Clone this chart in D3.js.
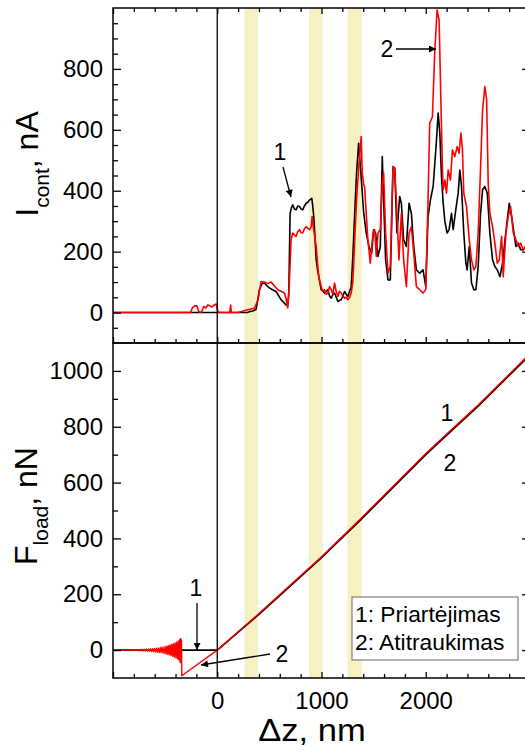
<!DOCTYPE html>
<html>
<head>
<meta charset="utf-8">
<script src="https://cdn.jsdelivr.net/npm/d3@7"></script>
<style>
  html, body { margin: 0; padding: 0; background: #fff; }
  svg { display: block; font-family: "Liberation Sans", Arial, sans-serif; }
</style>
</head>
<body>
<svg id="chart" width="525" height="750"></svg>
<script>
// ---- data ----
// Δz positions are in nm
const xTicksMajor = [-1000, 0, 1000, 2000, 3000];
const xTickLabels = [0, 1000, 2000];
const xTicksMinor = [-800, -600, -400, -200, 200, 400, 600, 800, 1200, 1400, 1600, 1800, 2200, 2400, 2600, 2800];

const currentTicks = [0, 200, 400, 600, 800];
const currentMinor = [-50, 50, 100, 150, 250, 300, 350, 450, 500, 550, 650, 700, 750, 850, 900, 950];
const loadTicks = [0, 200, 400, 600, 800, 1000];
const loadMinor = [100, 300, 500, 700, 900];

// highlighted Δz intervals, nm
const bands = [[260, 390], [880, 1010], [1250, 1385]];

// contact current, nA — approach (1)
const currentApproach = [
  [-1000,0],[290,0],[308,3],[340,5],[372,10],[390,45],[404,75],[430,95],[452,97],[476,88],[500,81],[530,75],
  [564,69],[590,55],[612,42],[644,31],[660,25],[675,22],[686,60],[699,326],[712,345],[724,354],[740,340],
  [756,337],[772,350],[788,348],[804,340],[820,337],[836,350],[853,359],[870,362],[885,370],[897,372],
  [907,375],[916,350],[926,315],[937,250],[949,173],[962,140],[974,118],[997,75],[1013,70],[1029,64],
  [1045,70],[1061,75],[1077,55],[1093,47],[1109,60],[1125,64],[1141,50],[1157,36],[1173,40],[1189,42],
  [1205,55],[1221,69],[1237,60],[1253,53],[1270,70],[1285,85],[1300,180],[1317,315],[1335,450],[1356,556],
  [1375,470],[1390,400],[1404,330],[1429,261],[1455,217],[1481,195],[1500,272],[1519,261],[1542,184],
  [1564,217],[1583,512],[1596,370],[1615,173],[1638,107],[1660,107],[1686,479],[1702,474],[1724,261],
  [1750,381],[1766,359],[1788,239],[1814,217],[1840,359],[1862,326],[1885,217],[1910,140],[1942,129],
  [1974,140],[2000,85],[2022,315],[2045,370],[2071,414],[2103,567],[2119,655],[2135,589],[2151,446],
  [2167,360],[2183,300],[2205,261],[2224,272],[2247,326],[2263,272],[2288,337],[2311,392],[2327,468],
  [2343,414],[2365,261],[2385,162],[2397,140],[2417,217],[2439,97],[2462,75],[2481,75],[2503,151],
  [2526,326],[2545,403],[2567,414],[2590,392],[2615,261],[2641,173],[2663,151],[2686,140],[2712,118],
  [2737,162],[2760,239],[2782,304],[2801,359],[2824,315],[2846,261],[2865,217],[2888,228],[2910,206],
  [2935,206],[2960,215],[3000,210]
];

// contact current, nA — retraction (2)
const currentRetract = [
  [-1000,0],[-255,0],[-240,15],[-215,22],[-195,22],[-180,5],[-165,0],[-150,2],[-130,20],[-110,15],[-90,25],
  [-70,22],[-50,18],[-30,25],[-10,28],[5,5],[15,0],[60,0],[120,0],[128,25],[135,0],[200,0],[291,9],[356,14],
  [390,40],[420,102],[452,100],[485,95],[516,100],[548,88],[580,75],[612,70],[644,64],[660,45],[676,15],
  [692,100],[708,239],[724,261],[740,255],[756,250],[772,265],[788,272],[804,262],[820,261],[836,275],
  [853,282],[870,276],[885,272],[900,280],[910,315],[917,290],[930,260],[949,217],[960,170],[974,118],
  [997,85],[1013,70],[1029,75],[1045,60],[1061,64],[1077,85],[1093,75],[1109,60],[1125,97],[1141,70],
  [1157,53],[1173,70],[1189,64],[1205,55],[1221,47],[1237,50],[1253,42],[1270,50],[1285,64],[1300,100],
  [1308,151],[1324,280],[1340,392],[1365,512],[1381,578],[1391,458],[1405,420],[1413,414],[1429,326],
  [1445,239],[1468,162],[1494,261],[1510,272],[1526,184],[1542,261],[1564,272],[1583,425],[1596,458],
  [1615,261],[1638,129],[1660,151],[1686,479],[1702,474],[1724,326],[1743,173],[1766,326],[1788,173],
  [1814,85],[1840,261],[1862,282],[1885,195],[1910,85],[1942,75],[1974,64],[2000,75],[2022,370],[2038,622],
  [2064,643],[2087,862],[2109,994],[2128,961],[2145,700],[2160,470],[2167,403],[2183,435],[2199,392],
  [2215,468],[2237,435],[2256,534],[2279,512],[2301,545],[2320,523],[2337,589],[2352,534],[2365,392],
  [2391,348],[2417,239],[2439,173],[2462,140],[2481,151],[2503,261],[2526,479],[2545,665],[2567,742],
  [2584,698],[2599,425],[2615,326],[2641,282],[2663,228],[2686,162],[2705,173],[2728,250],[2743,118],
  [2769,261],[2791,315],[2814,348],[2840,261],[2865,239],[2888,217],[2910,228],[2935,206],[2960,220],
  [3000,210]
];

// load force, nN — approach (1)
const loadApproach = [
  [-1000,0],[0,0],[400,128],[1000,331],[1365,463],[2000,700],[2250,787],[2500,873],[3000,1058]
];

// load force, nN — retraction (2), with the ringing before snap-off
const loadRetract = [
  [-1000,0],[-840,0],[-820,1],[-810,-1],[-800,1],[-790,-1],[-780,1],[-770,-1],[-760,2],[-750,-2],[-740,2],[-730,-2],[-720,3],
  [-710,-3],[-700,3],[-690,-3],[-680,4],[-670,-4],[-660,4],[-650,-4],[-640,5],[-630,-5],[-620,5],[-610,-6],
  [-600,6],[-590,-7],[-580,7],[-570,-8],[-560,8],[-550,-9],[-540,10],[-530,-10],[-520,11],[-510,-12],
  [-500,12],[-492,-13],[-484,14],[-476,-15],[-468,16],[-460,-17],[-452,18],[-444,-19],[-436,20],[-428,-22],
  [-420,23],[-412,-25],[-404,26],[-396,-28],[-388,29],[-380,-31],[-372,33],[-366,-36],[-360,38],[-355,-45],
  [-350,42],[-346,-40],[-343,35],[-340,-92],[0,0],[400,131],[1000,334],[1365,467],[2000,704],[2250,791],
  [2500,877],[3000,1062]
];

// ---- layout ----
const svg = d3.select("#chart");
const L = 113, R = 530, T = 8, MID = 343, B = 678;

const x = d3.scaleLinear().domain([-1000, 3000]).range([L, R]);
const yTop = d3.scaleLinear().domain([-100, 1000]).range([MID, T]);
const yBot = d3.scaleLinear().domain([-100, 1100]).range([B, MID]);
const fmt = d3.format("d");

// highlighted intervals
svg.append("g").selectAll("rect").data(bands).join("rect")
  .attr("x", d => x(d[0])).attr("width", d => x(d[1]) - x(d[0]))
  .attr("y", T).attr("height", B - T)
  .attr("fill", "#f6f1c3");

svg.append("clipPath").attr("id", "clipTop")
  .append("rect").attr("x", L).attr("y", T).attr("width", R - L).attr("height", MID - T);
svg.append("clipPath").attr("id", "clipBot")
  .append("rect").attr("x", L).attr("y", MID).attr("width", R - L).attr("height", B - MID);

const lineTop = d3.line().x(d => x(d[0])).y(d => yTop(d[1]));
const lineBot = d3.line().x(d => x(d[0])).y(d => yBot(d[1]));

const gTop = svg.append("g").attr("clip-path", "url(#clipTop)");
gTop.append("path").datum(currentApproach).attr("d", lineTop)
  .attr("fill", "none").attr("stroke", "#000").attr("stroke-width", 1.6).attr("stroke-linejoin", "round");
gTop.append("path").datum(currentRetract).attr("d", lineTop)
  .attr("fill", "none").attr("stroke", "#ff0000").attr("stroke-width", 1.6).attr("stroke-linejoin", "round");

const gBot = svg.append("g").attr("clip-path", "url(#clipBot)");
gBot.append("path").datum(loadApproach).attr("d", lineBot)
  .attr("fill", "none").attr("stroke", "#000").attr("stroke-width", 1.8);
gBot.append("path").datum(loadRetract).attr("d", lineBot)
  .attr("fill", "none").attr("stroke", "#ff0000").attr("stroke-width", 1.4).attr("stroke-linejoin", "round");

// Δz = 0 marker
svg.append("line").attr("x1", x(0)).attr("x2", x(0)).attr("y1", T).attr("y2", B)
  .attr("stroke", "#000").attr("stroke-width", 1.3);

// ---- axes ----
function styleAxis(g) {
  g.select(".domain").remove();
  g.selectAll(".tick line").attr("stroke", "#000").attr("stroke-width", 1.3);
  g.selectAll(".tick text").attr("font-size", 24).attr("fill", "#000")
    .attr("font-family", "'Liberation Sans', Arial, sans-serif");
}
function addAxis(axis, tx, ty) {
  svg.append("g").attr("transform", `translate(${tx},${ty})`).call(axis).call(styleAxis);
}

// top panel
addAxis(d3.axisLeft(yTop).tickValues(currentTicks).tickSize(-8).tickPadding(10).tickFormat(fmt), L, 0);
addAxis(d3.axisLeft(yTop).tickValues(currentMinor).tickSize(-5).tickFormat(""), L, 0);
addAxis(d3.axisRight(yTop).tickValues(currentTicks).tickSize(-8).tickFormat(""), R, 0);
addAxis(d3.axisRight(yTop).tickValues(currentMinor).tickSize(-5).tickFormat(""), R, 0);
addAxis(d3.axisTop(x).tickValues(xTicksMajor).tickSize(-6).tickFormat(""), 0, T);
addAxis(d3.axisTop(x).tickValues(xTicksMinor).tickSize(-4).tickFormat(""), 0, T);
addAxis(d3.axisBottom(x).tickValues(xTicksMajor).tickSize(-6).tickFormat(""), 0, MID);
addAxis(d3.axisBottom(x).tickValues(xTicksMinor).tickSize(-4).tickFormat(""), 0, MID);

// bottom panel
addAxis(d3.axisLeft(yBot).tickValues(loadTicks).tickSize(-8).tickPadding(10).tickFormat(fmt), L, 0);
addAxis(d3.axisLeft(yBot).tickValues(loadMinor).tickSize(-5).tickFormat(""), L, 0);
addAxis(d3.axisRight(yBot).tickValues(loadTicks).tickSize(-8).tickFormat(""), R, 0);
addAxis(d3.axisRight(yBot).tickValues(loadMinor).tickSize(-5).tickFormat(""), R, 0);
addAxis(d3.axisBottom(x).tickValues(xTicksMajor).tickSize(-6)
  .tickFormat(d => xTickLabels.includes(d) ? fmt(d) : "").tickPadding(14), 0, B);
addAxis(d3.axisBottom(x).tickValues(xTicksMinor).tickSize(-4).tickFormat(""), 0, B);

// frames
[[T, MID], [MID, B]].forEach(([a, b]) => {
  svg.append("rect").attr("x", L).attr("y", a).attr("width", R - L).attr("height", b - a)
    .attr("fill", "none").attr("stroke", "#000").attr("stroke-width", 1.5);
});

// ---- axis titles ----
const yTitleTop = svg.append("text")
  .attr("transform", "translate(38,164) rotate(-90)")
  .attr("text-anchor", "middle").attr("font-size", 32).attr("fill", "#000");
yTitleTop.append("tspan").text("I");
yTitleTop.append("tspan").text("cont").attr("font-size", 21).attr("dy", 11);
yTitleTop.append("tspan").text(", nA").attr("dy", -11);

const yTitleBot = svg.append("text")
  .attr("transform", "translate(37,506) rotate(-90)")
  .attr("text-anchor", "middle").attr("font-size", 32).attr("fill", "#000");
yTitleBot.append("tspan").text("F");
yTitleBot.append("tspan").text("load").attr("font-size", 21).attr("dy", 11);
yTitleBot.append("tspan").text(", nN").attr("dy", -11);

svg.append("text").attr("transform", "translate(312,741) scale(1.08,1)")
  .attr("text-anchor", "middle").attr("font-size", 32).attr("fill", "#000").text("Δz, nm");

// ---- annotations ----
svg.append("defs").append("marker").attr("id", "arrow")
  .attr("viewBox", "0 0 10 10").attr("refX", 10).attr("refY", 5)
  .attr("markerWidth", 9).attr("markerHeight", 7).attr("markerUnits", "userSpaceOnUse")
  .attr("orient", "auto")
  .append("path").attr("d", "M0,0 L10,5 L0,10 Z").attr("fill", "#000");

function label(txt, cx, cy) {
  svg.append("text").attr("x", cx).attr("y", cy + 8).attr("text-anchor", "middle")
    .attr("font-size", 23).attr("fill", "#000").text(txt);
}
function arrow(x1, y1, x2, y2) {
  svg.append("line").attr("x1", x1).attr("y1", y1).attr("x2", x2).attr("y2", y2)
    .attr("stroke", "#000").attr("stroke-width", 1.3).attr("marker-end", "url(#arrow)");
}

label("1", 280, 152); arrow(283, 167, 291, 197);
label("2", 387, 49); arrow(396, 49, 436, 49);
label("1", 196, 588); arrow(197, 603, 197, 650);
label("2", 282, 654); arrow(270, 654, 201, 665);
label("1", 447, 413);
label("2", 450, 463);

// legend
const lg = svg.append("g");
lg.append("rect").attr("x", 352).attr("y", 597).attr("width", 166).attr("height", 63)
  .attr("fill", "#fff").attr("stroke", "#7f7f7f").attr("stroke-width", 1.2);
lg.append("text").attr("transform", "translate(355,622) scale(1.06,1)")
  .attr("font-size", 21.5).attr("fill", "#000").text("1: Priartėjimas");
lg.append("text").attr("transform", "translate(355,650) scale(1.06,1)")
  .attr("font-size", 21.5).attr("fill", "#000").text("2: Atitraukimas");
</script>
</body>
</html>
